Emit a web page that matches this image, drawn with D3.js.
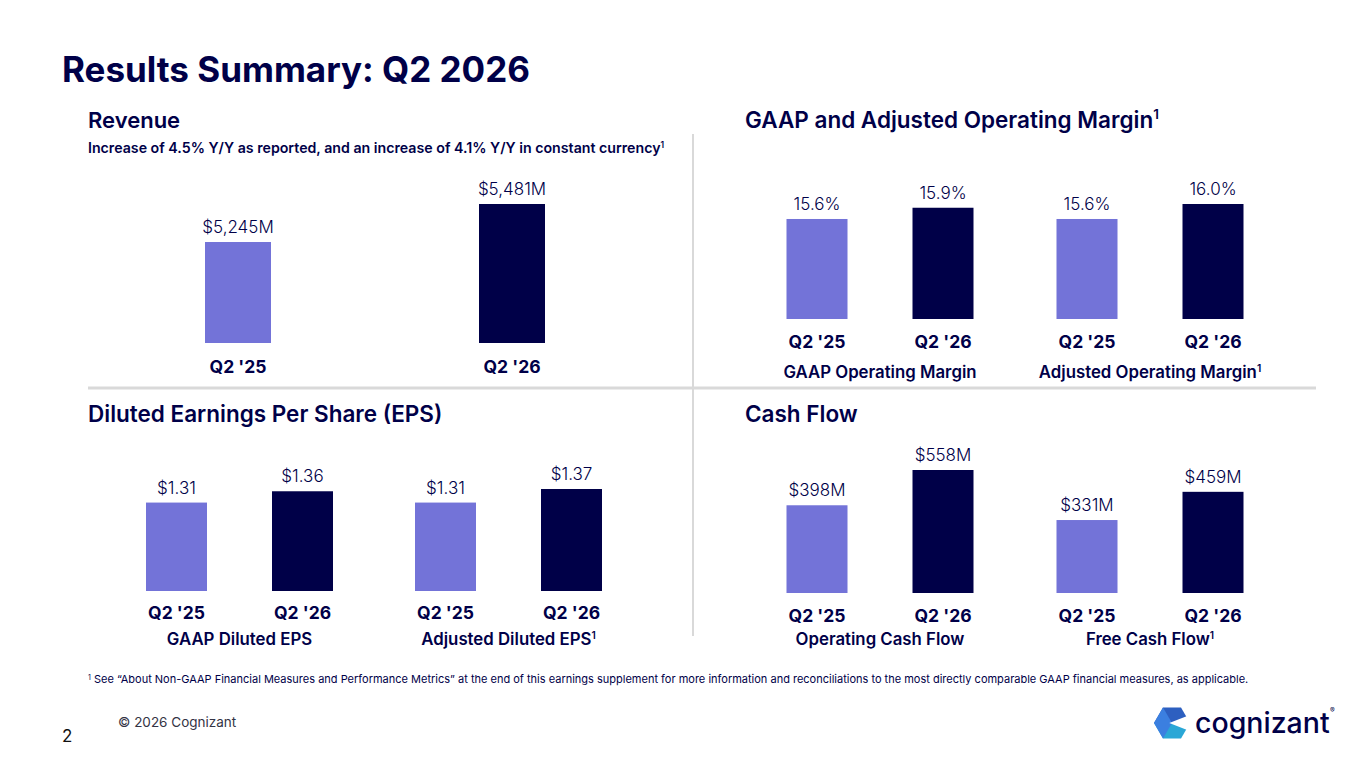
<!DOCTYPE html>
<html>
<head>
<meta charset="utf-8">
<script src="https://cdn.jsdelivr.net/npm/d3@7"></script>
<style>
	html, body { margin: 0; padding: 0; background: #ffffff; }
	svg { display: block; font-family: Inter, "Noto Sans", sans-serif; }
</style>
</head>
<body>
<div id="slide"></div>
<script>
// Categories shared by every panel
const quarters = ["Q2 '25", "Q2 '26"];

// Revenue ($M)
const revenueValues = [5245, 5481];
const revenueLabels = ["$5,245M", "$5,481M"];

// Operating margin (%)
const marginGroups = ["GAAP Operating Margin", "Adjusted Operating Margin"];
const gaapMargin = [15.6, 15.9];
const adjustedMargin = [15.6, 16.0];

// Diluted EPS ($)
const epsGroups = ["GAAP Diluted EPS", "Adjusted Diluted EPS"];
const gaapEps = [1.31, 1.36];
const adjustedEps = [1.31, 1.37];

// Cash flow ($M)
const cashGroups = ["Operating Cash Flow", "Free Cash Flow"];
const operatingCash = [398, 558];
const freeCash = [331, 459];

// Which group labels carry the footnote mark
const footnoted = ["Adjusted Operating Margin", "Adjusted Diluted EPS", "Free Cash Flow"];

const navy = "#000048";
const lavender = "#7373D8";
const barColor = d3.scaleOrdinal().domain(quarters).range([lavender, navy]);

const width = 1365;
const height = 768;

const svg = d3
	.select("#slide")
	.append("svg")
	.attr("width", width)
	.attr("height", height);

// Small helper for text with a superscript "1"
function addText(g, x, y, str, opts, sup) {
	const t = g
		.append("text")
		.attr("x", x)
		.attr("y", y)
		.attr("fill", opts.fill || navy)
		.attr("font-size", opts.size)
		.attr("font-weight", opts.weight || 400)
		.attr("text-anchor", opts.anchor || "start")
		.text(str);
	if (sup) {
		t.append("tspan")
			.attr("font-size", opts.size * 0.6)
			.attr("dy", -opts.size * 0.38)
			.text("1");
	}
	return t;
}

// Title
addText(svg, 62, 82, "Results Summary: Q2 2026", { size: 35, weight: 700 });

// Dividers
svg.append("line")
	.attr("x1", 693).attr("x2", 693)
	.attr("y1", 134).attr("y2", 636)
	.attr("stroke", "#d9d9d9").attr("stroke-width", 2);
svg.append("line")
	.attr("x1", 88).attr("x2", 1316)
	.attr("y1", 388).attr("y2", 388)
	.attr("stroke", "#d9d9d9").attr("stroke-width", 3);

// Section headings
addText(svg, 88, 128, "Revenue", { size: 22, weight: 600 });
addText(
	svg, 88, 153,
	"Increase of 4.5% Y/Y as reported, and an increase of 4.1% Y/Y in constant currency",
	{ size: 14.2, weight: 600 }, true
);
addText(svg, 745, 128, "GAAP and Adjusted Operating Margin", { size: 22.5, weight: 600 }, true);
addText(svg, 88, 422, "Diluted Earnings Per Share (EPS)", { size: 22.5, weight: 600 });
addText(svg, 745, 422, "Cash Flow", { size: 22.5, weight: 600 });

// Draw one panel of grouped bars
function drawPanel(cfg) {
	const g = svg.append("g");

	const xGroup = d3.scaleBand().domain(cfg.groups).range(cfg.xRange);
	const xInner = d3.scalePoint().domain(quarters).range(cfg.innerRange);
	const y = d3.scaleLinear().domain(cfg.yDomain).range([cfg.baseline, cfg.top]);

	const rows = [];
	cfg.groups.forEach((grp, gi) => {
		cfg.series[gi].forEach((v, i) => {
			rows.push({ group: grp, quarter: quarters[i], value: v, label: cfg.format(v, gi, i) });
		});
	});

	const cx = (d) => xGroup(d.group) + xGroup.bandwidth() / 2 + xInner(d.quarter);

	g.selectAll("rect")
		.data(rows)
		.enter()
		.append("rect")
		.attr("x", (d) => cx(d) - cfg.barWidth / 2)
		.attr("y", (d) => y(d.value))
		.attr("width", cfg.barWidth)
		.attr("height", (d) => y(cfg.yDomain[0]) - y(d.value))
		.attr("fill", (d) => barColor(d.quarter));

	g.selectAll("text.value")
		.data(rows)
		.enter()
		.append("text")
		.attr("class", "value")
		.attr("x", cx)
		.attr("y", (d) => y(d.value) - 9)
		.attr("text-anchor", "middle")
		.attr("font-size", 17)
		.attr("font-weight", 300)
		.attr("fill", navy)
		.text((d) => d.label);

	g.selectAll("text.quarter")
		.data(rows)
		.enter()
		.append("text")
		.attr("class", "quarter")
		.attr("x", cx)
		.attr("y", cfg.quarterY)
		.attr("text-anchor", "middle")
		.attr("font-size", 17.5)
		.attr("font-weight", 700)
		.attr("fill", navy)
		.text((d) => d.quarter);

	if (cfg.groupY) {
		cfg.groups.forEach((grp) => {
			addText(
				g,
				xGroup(grp) + xGroup.bandwidth() / 2,
				cfg.groupY,
				grp,
				{ size: 16.8, weight: 600, anchor: "middle" },
				footnoted.includes(grp)
			);
		});
	}
}

// Revenue
drawPanel({
	groups: ["Revenue"],
	series: [revenueValues],
	format: (v, gi, i) => revenueLabels[i],
	xRange: [105, 645],
	innerRange: [-137, 137],
	barWidth: 66,
	yDomain: [4618, 5481],
	baseline: 343,
	top: 204,
	quarterY: 373,
});

// Operating margin
drawPanel({
	groups: marginGroups,
	series: [gaapMargin, adjustedMargin],
	format: (v) => v.toFixed(1) + "%",
	xRange: [745, 1285],
	innerRange: [-63, 63],
	barWidth: 61,
	yDomain: [12.93, 16.0],
	baseline: 319,
	top: 204,
	quarterY: 348,
	groupY: 378,
});

// EPS
drawPanel({
	groups: epsGroups,
	series: [gaapEps, adjustedEps],
	format: (v) => "$" + v.toFixed(2),
	xRange: [105, 643],
	innerRange: [-63, 63],
	barWidth: 61,
	yDomain: [0.919, 1.37],
	baseline: 591,
	top: 489,
	quarterY: 619,
	groupY: 645,
});

// Cash flow
drawPanel({
	groups: cashGroups,
	series: [operatingCash, freeCash],
	format: (v) => "$" + v + "M",
	xRange: [745, 1285],
	innerRange: [-63, 63],
	barWidth: 61,
	yDomain: [0, 558],
	baseline: 593,
	top: 470,
	quarterY: 622,
	groupY: 645,
});

// Footnote
const foot = svg
	.append("text")
	.attr("x", 88)
	.attr("y", 683)
	.attr("font-size", 11)
	.attr("fill", navy);
foot.append("tspan").attr("font-size", 7).attr("dy", -3).text("1");
foot.append("tspan")
	.attr("dy", 3)
	.text(" See \u201CAbout Non-GAAP Financial Measures and Performance Metrics\u201D at the end of this earnings supplement for more information and reconciliations to the most directly comparable GAAP financial measures, as applicable.");

// Footer
addText(svg, 118, 727, "\u00A9 2026 Cognizant", { size: 13.5, fill: "#333344" });
addText(svg, 62, 742, "2", { size: 17, fill: "#111111" });

// Logo mark
const lg = svg.append("g").attr("transform", "translate(1172, 723)");
const r = 18;
const h = r * 0.866;
lg.append("polygon")
	.attr("points", [[-r, 0], [-r / 2, -h], [r / 2, -h], [r, 0], [0, 0]].join(" "))
	.attr("fill", "#2d5fc0");
lg.append("polygon")
	.attr("points", [[-r, 0], [0, 0], [r, 0], [r / 2, h], [-r / 2, h]].join(" "))
	.attr("fill", "#2aa7d6");
lg.append("polygon")
	.attr("points", [[-r, 0], [-r / 2, -h], [0, 0], [-r / 2, h]].join(" "))
	.attr("fill", "#3b7fe0");
lg.append("polygon")
	.attr("points", [[r + 1, -h * 0.55], [-r * 0.15, 0], [r + 1, h * 0.55]].join(" "))
	.attr("fill", "#ffffff");
addText(svg, 1195, 733, "cognizant", { size: 28.5, weight: 500 });
addText(svg, 1330, 713, "\u00AE", { size: 7 });
</script>
</body>
</html>
